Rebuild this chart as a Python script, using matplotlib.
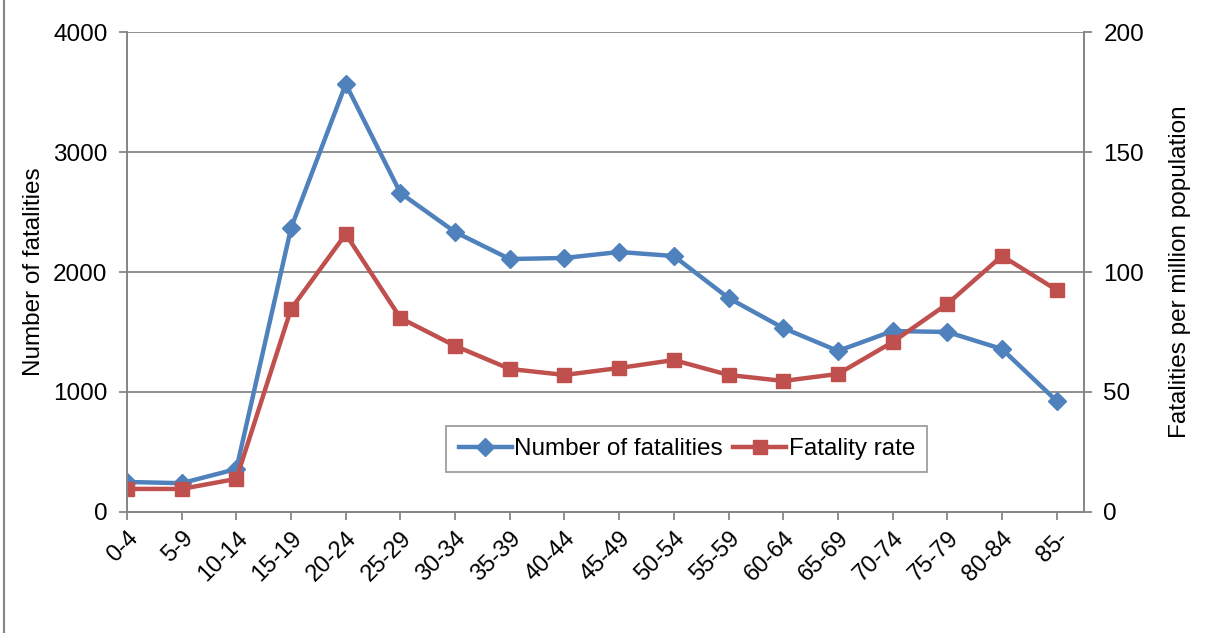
import matplotlib.pyplot as plt
import numpy as np
from matplotlib.lines import Line2D

plt.rcParams['font.family'] = ['Liberation Sans', 'DejaVu Sans']

age_groups = ['0-4', '5-9', '10-14', '15-19', '20-24', '25-29', '30-34', '35-39', '40-44',
              '45-49', '50-54', '55-59', '60-64', '65-69', '70-74', '75-79', '80-84', '85-']
fatalities = [250, 240, 358, 2367, 3567, 2658, 2333, 2108, 2117,
              2167, 2133, 1783, 1533, 1342, 1508, 1500, 1358, 925]
fatality_rate = [9.6, 9.6, 13.8, 84.6, 115.8, 80.8, 69.2, 59.6, 57.1,
                 60.0, 63.3, 57.1, 54.6, 57.5, 70.8, 86.7, 106.7, 92.5]
left_ticks = [0, 1000, 2000, 3000, 4000]
right_ticks = [0, 50, 100, 150, 200]

blue = '#4F81BD'
red = '#C0504D'
axis_gray = '#868686'

fig = plt.figure(figsize=(12.05, 6.33), dpi=100)
ax = fig.add_axes([0.1054, 0.1912, 0.7942, 0.7582])
ax2 = ax.twinx()

x = np.arange(len(age_groups))
ax.plot(x, fatalities, color=blue, lw=3.2, marker='D', markersize=9.5, label='Number of fatalities')
ax2.plot(x, fatality_rate, color=red, lw=3.2, marker='s', markersize=9.5, label='Fatality rate')

ax.set_xlim(0, len(age_groups) - 0.5)
ax.set_ylim(0, 4000)
ax2.set_ylim(0, 200)
ax.set_yticks(left_ticks)
ax2.set_yticks(right_ticks)
ax.set_xticks(x)
ax.set_xticklabels(age_groups, rotation=45, ha='right', rotation_mode='anchor', fontsize=17)
ax.tick_params(axis='y', labelsize=17.5, length=6, color=axis_gray, width=1.3, pad=8)
ax2.tick_params(axis='y', labelsize=17.5, length=6, color=axis_gray, width=1.3, pad=8)
ax.tick_params(axis='x', length=6, color=axis_gray, width=1.3, pad=5)

ax.grid(axis='y', color=axis_gray, lw=1.3)
ax.set_axisbelow(True)
for a in (ax, ax2):
    a.spines['top'].set_visible(False)
    for s in ('left', 'right', 'bottom'):
        a.spines[s].set_color(axis_gray)
        a.spines[s].set_linewidth(1.3)

ax.set_ylabel('Number of fatalities', fontsize=17.5, labelpad=6)
ax2.set_ylabel('Fatalities per million population', fontsize=17.5, labelpad=18)

handles = [Line2D([], [], color=blue, lw=3.2, marker='D', markersize=9.5),
           Line2D([], [], color=red, lw=3.2, marker='s', markersize=9.5)]
leg = ax2.legend(handles, ['Number of fatalities', 'Fatality rate'], loc='center',
                 bbox_to_anchor=(0.585, 0.131), ncol=2, fontsize=17.5, frameon=True,
                 fancybox=False, handlelength=2.2, handletextpad=0.1, columnspacing=0.4,
                 borderpad=0.5)
leg.get_frame().set_edgecolor(axis_gray)
leg.get_frame().set_linewidth(1.3)

fig.add_artist(Line2D([0.003, 0.003], [0, 1], transform=fig.transFigure, color=axis_gray, lw=1.5))

fig.savefig('out.png', dpi=100)
